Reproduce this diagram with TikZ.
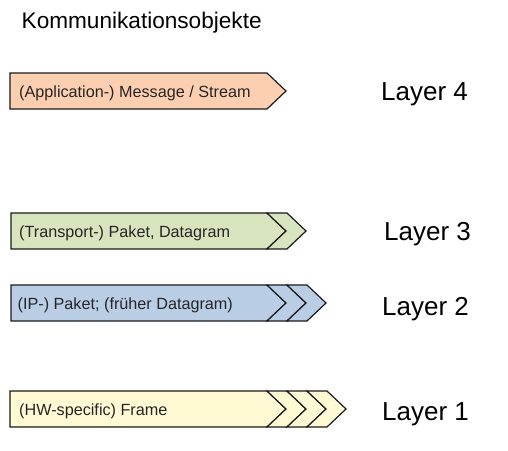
\documentclass[tikz,border=0pt]{standalone}
\usepackage{fontspec}
\setmainfont{Liberation Sans}
\definecolor{cpeach}{HTML}{FBCFB0}
\definecolor{cgreen}{HTML}{D7E4BD}
\definecolor{cblue}{HTML}{B9CDE5}
\definecolor{cyellow}{HTML}{FFF9D4}
\definecolor{cline}{HTML}{1A1A1A}
\tikzset{
  shapeline/.style={draw=cline, line width=1.2pt, line join=miter},
  boxtext/.style={anchor=base west, inner sep=0pt, font=\fontsize{16.2}{19}\selectfont, text=black!85},
  layertext/.style={anchor=base west, inner sep=0pt, font=\fontsize{26}{31}\selectfont, text=black},
}
% #1 fill, #2 left x, #3 top y, #4 number of chevrons
\newcommand{\pktshape}[4]{%
  \def\tp{#3}%
  \pgfmathsetmacro{\bt}{#3+36}%
  \pgfmathsetmacro{\md}{#3+18}%
  \fill[#1] (#2,\tp) -- (267,\tp) -- (286,\md) -- (267,\bt) -- (#2,\bt) -- cycle;
  \draw[shapeline] (#2,\tp) -- (267,\tp) -- (286,\md) -- (267,\bt) -- (#2,\bt) -- cycle;
  \foreach \i in {1,...,#4}{%
    \ifnum#4>0
    \pgfmathsetmacro{\xa}{267+20*(\i-1)}%
    \pgfmathsetmacro{\xb}{267+20*\i}%
    \filldraw[shapeline, fill=#1] (\xa,\tp) -- (\xb,\tp) -- (\xb+19,\md) -- (\xb,\bt) -- (\xa,\bt) -- (\xa+19,\md) -- cycle;
    \fi
  }%
}
\begin{document}
\begin{tikzpicture}[x=1pt,y=-1pt]
\useasboundingbox (0,0) rectangle (508,450);
\node[anchor=base west, inner sep=0pt, font=\fontsize{22.6}{27}\selectfont] (title) at (21.5,28) {Kommunikationsobjekte};

% Layer 4
\fill[cpeach] (10,73) -- (267,73) -- (286,91) -- (267,109) -- (10,109) -- cycle;
\draw[shapeline] (10,73) -- (267,73) -- (286,91) -- (267,109) -- (10,109) -- cycle;
\node[boxtext] (t4) at (19,97.5) {(Application-) Message / Stream};
\node[layertext] (l4) at (381,100) {Layer 4};

% Layer 3
\pktshape{cgreen}{11}{213}{1}
\node[boxtext] (t3) at (19,237.5) {(Transport-) Paket, Datagram};
\node[layertext] (l3) at (384,240) {Layer 3};

% Layer 2
\pktshape{cblue}{11}{285}{2}
\node[boxtext] (t2) at (17.5,309.5) {(IP-) Paket; (früher Datagram)};
\node[layertext] (l2) at (382,315) {Layer 2};

% Layer 1
\pktshape{cyellow}{10}{391}{3}
\node[boxtext] (t1) at (19,415.5) {(HW-specific) Frame};
\node[layertext] (l1) at (382,420) {Layer 1};
\end{tikzpicture}
\end{document}
